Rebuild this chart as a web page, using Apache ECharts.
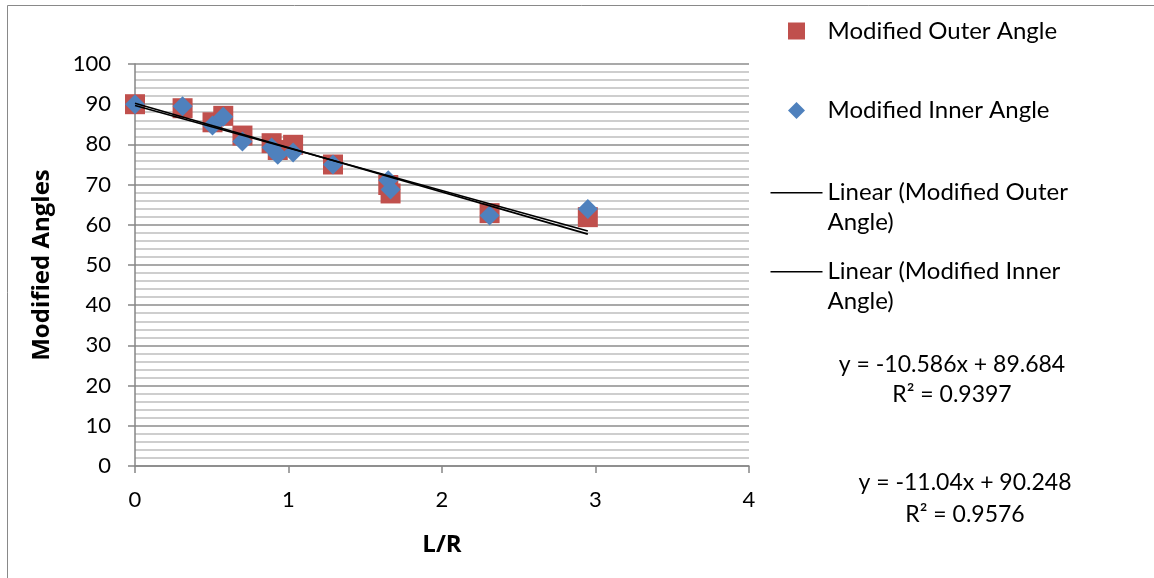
<!DOCTYPE html>
<html>
<head>
<meta charset="utf-8">
<script src="https://cdn.jsdelivr.net/npm/echarts@6/dist/echarts.min.js"></script>
<style>
html,body{margin:0;padding:0;background:#fff;}
#chart{width:1154px;height:578px;}
</style>
</head>
<body>
<div id="chart"></div>
<script>
// ---- data ----
const lrValues   = [0, 0.31, 0.505, 0.575, 0.70, 0.89, 0.93, 1.03, 1.29, 1.65, 1.665, 2.31, 2.95];
const outerAngle = [90, 89.0, 85.5, 87.1, 82.2, 80.3, 78.6, 79.9, 75.0, 69.9, 67.8, 62.9, 61.9];
const innerAngle = [90, 89.5, 84.7, 86.9, 80.7, 79.2, 77.4, 78.0, 75.0, 71.1, 68.8, 62.3, 63.9];
const outerFit = [-10.586, 89.684]; // slope, intercept
const innerFit = [-11.04, 90.248];
const outerR2 = '0.9397';
const innerR2 = '0.9576';
const seriesNames = ['Modified Outer Angle', 'Modified Inner Angle',
  'Linear (Modified Outer\nAngle)', 'Linear (Modified Inner\nAngle)'];
const xTicks = [0, 1, 2, 3, 4];
const yTicks = [0, 10, 20, 30, 40, 50, 60, 70, 80, 90, 100];

const FONT = 'Lato';
const TITLE_FONT = 'Open Sans';
const pairs = (xs, ys) => xs.map((x, i) => [x, ys[i]]);
const xMin = Math.min(...lrValues), xMax = Math.max(...lrValues);
const fitLine = f => [[xMin, f[0] * xMin + f[1]], [xMax, f[0] * xMax + f[1]]];
const eqText = f => 'y = ' + f[0] + 'x + ' + f[1];

const chart = echarts.init(document.getElementById('chart'), null, {renderer: 'canvas'});
const option = {
  backgroundColor: '#ffffff',
  animation: false,
  textStyle: {fontFamily: FONT},
  grid: {left: 135, top: 64, right: 405, bottom: 112, containLabel: false},
  xAxis: {
    type: 'value', min: xTicks[0], max: xTicks[xTicks.length - 1], interval: 1,
    name: 'L/R', nameLocation: 'middle', nameGap: 67,
    nameTextStyle: {fontFamily: TITLE_FONT, fontSize: 24, fontWeight: 'bold', color: '#000'},
    axisLine: {show: true, onZero: true, lineStyle: {color: '#868686', width: 1.5}},
    axisTick: {show: true, inside: false, length: 7, lineStyle: {color: '#868686', width: 1.5}},
    axisLabel: {fontFamily: FONT, fontSize: 22, color: '#000', margin: 23},
    splitLine: {show: false}
  },
  yAxis: {
    type: 'value', min: yTicks[0], max: yTicks[yTicks.length - 1], interval: 10,
    name: 'Modified Angles', nameLocation: 'middle', nameGap: 81, nameRotate: 90,
    nameTextStyle: {fontFamily: TITLE_FONT, fontSize: 24, fontWeight: 'bold', color: '#000'},
    axisLine: {show: true, lineStyle: {color: '#868686', width: 1.5}},
    axisTick: {show: true, inside: false, length: 7, lineStyle: {color: '#868686', width: 1.5}},
    axisLabel: {fontFamily: FONT, fontSize: 22, color: '#000', margin: 24},
    splitLine: {show: true, lineStyle: {color: '#8c8c8c', width: 1.5}},
    minorTick: {show: false, splitNumber: 5},
    minorSplitLine: {show: true, lineStyle: {color: '#bfbfbf', width: 1.5}}
  },
  legend: [
    {
      orient: 'vertical', left: 788, top: 16, padding: 0,
      itemWidth: 52, itemHeight: 17, itemGap: 49.5,
      textStyle: {fontFamily: FONT, fontSize: 24, lineHeight: 30, color: '#000'},
      data: [
        {name: seriesNames[0], icon: 'path://M0,0H17V17H0Z'},
        {name: seriesNames[1], icon: 'path://M8.5,0L17,8.5L8.5,17L0,8.5Z'}
      ],
      selectedMode: false
    },
    {
      orient: 'vertical', left: 770.5, top: 177.7, padding: 0,
      itemWidth: 52, itemHeight: 60, itemGap: 19,
      textStyle: {fontFamily: FONT, fontSize: 24, lineHeight: 30, color: '#000'},
      data: [
        {name: seriesNames[2], icon: 'path://M0,14.2H52V15.8H0Z M0,0L0,0Z M52,60L52,60Z'},
        {name: seriesNames[3], icon: 'path://M0,14.2H52V15.8H0Z M0,0L0,0Z M52,60L52,60Z'}
      ],
      selectedMode: false
    }
  ],
  series: [
    {
      name: seriesNames[0], type: 'scatter', symbol: 'rect', symbolSize: 20,
      itemStyle: {color: '#C0504D', opacity: 1}, data: pairs(lrValues, outerAngle)
    },
    {
      name: seriesNames[1], type: 'scatter', symbol: 'diamond', symbolSize: 20,
      itemStyle: {color: '#4F81BD', opacity: 1}, data: pairs(lrValues, innerAngle)
    },
    {
      name: seriesNames[2], type: 'line', symbol: 'none', showSymbol: false,
      lineStyle: {color: '#000', width: 1.6}, itemStyle: {color: '#000'},
      data: fitLine(outerFit)
    },
    {
      name: seriesNames[3], type: 'line', symbol: 'none', showSymbol: false,
      lineStyle: {color: '#000', width: 1.6}, itemStyle: {color: '#000'},
      data: fitLine(innerFit)
    }
  ],
  graphic: [
    {type: 'rect', shape: {x: 7.5, y: 5.5, width: 1300, height: 700}, style: {fill: 'none', stroke: '#898989', lineWidth: 1}, silent: true, z: -1},
    {type: 'text', x: 952, y: 365, style: {text: eqText(outerFit), font: '23px ' + FONT, fill: '#000', textAlign: 'center', textVerticalAlign: 'middle'}},
    {type: 'text', x: 952, y: 395, style: {text: 'R² = ' + outerR2, font: '23px ' + FONT, fill: '#000', textAlign: 'center', textVerticalAlign: 'middle'}},
    {type: 'text', x: 965, y: 483, style: {text: eqText(innerFit), font: '23px ' + FONT, fill: '#000', textAlign: 'center', textVerticalAlign: 'middle'}},
    {type: 'text', x: 965, y: 515, style: {text: 'R² = ' + innerR2, font: '23px ' + FONT, fill: '#000', textAlign: 'center', textVerticalAlign: 'middle'}}
  ]
};
chart.setOption(option);
</script>
</body>
</html>
